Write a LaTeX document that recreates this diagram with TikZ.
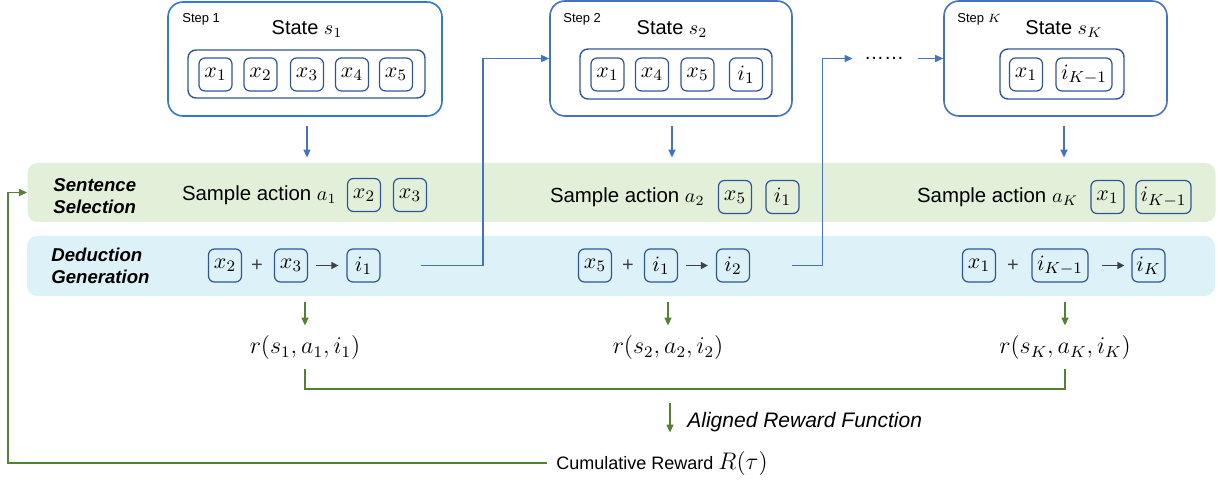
\documentclass[tikz,border=0pt]{standalone}
\usepackage[no-math]{fontspec}
\setmainfont{Liberation Sans}
\usetikzlibrary{arrows.meta,positioning}
\definecolor{selgreen}{HTML}{E2F0D9}
\definecolor{dedblue}{HTML}{DDF2F8}
\definecolor{flowblue}{HTML}{4472C4}
\definecolor{firstblue}{HTML}{2E7BCF}
\definecolor{tokblue}{HTML}{2F5597}
\definecolor{rewgreen}{HTML}{548235}
\definecolor{opgray}{HTML}{404040}
\begin{document}
\begin{tikzpicture}[
  x = 0.5pt, y = -0.5pt,
  statebox/.style = {draw = #1, line width = 0.8pt, rounded corners = 7.5pt},
  pool/.style = {draw = tokblue, line width = 0.7pt, rounded corners = 4pt},
  tok/.style = {draw = tokblue, line width = 0.6pt, rounded corners = 3pt,
    minimum width = 16.5pt, minimum height = 16.5pt, inner sep = 1pt,
    font = \fontsize{11}{12}\selectfont},
  band/.style = {fill = #1, rounded corners = 5pt, minimum width = 594pt,
    minimum height = 29.5pt},
  steplbl/.style = {anchor = west, inner sep = 0pt, font = \fontsize{6.5}{8}\selectfont},
  statelbl/.style = {inner sep = 0pt, font = \fontsize{10}{12}\selectfont},
  bandlbl/.style = {anchor = west, align = left, inner sep = 0pt,
    font = \bfseries\itshape\fontsize{9.3}{11}\selectfont},
  acttext/.style = {inner sep = 0pt, font = \fontsize{10.2}{12}\selectfont},
  opsign/.style = {inner sep = 0pt, text = opgray, font = \fontsize{10}{12}\selectfont},
  rew/.style = {inner sep = 0pt, font = \fontsize{11.5}{13}\selectfont},
  blueflow/.style = {draw = flowblue, line width = 0.75pt,
    -{Triangle[length = 4pt, width = 3.5pt]}},
  opflow/.style = {draw = opgray, line width = 0.75pt,
    -{Triangle[length = 3.5pt, width = 3.5pt]}, shorten <= 4pt, shorten >= 4pt},
  rewline/.style = {draw = rewgreen, line width = 0.75pt},
  rewflow/.style = {rewline, -{Triangle[length = 4pt, width = 3.5pt]}}
  ]
  \useasboundingbox (0,0) rectangle (1223,481);
  \node[band = selgreen] (sel) at (621.5,192.5) {};
  \node[band = dedblue, minimum height = 30pt] (ded) at (621,266) {};
  \node[bandlbl] (sellbl) at (53,196) {Sentence\\Selection};
  \node[bandlbl] (dedlbl) at (51,266) {Deduction\\Generation};

  \node[statebox = firstblue, minimum width = 137pt, minimum height = 57pt] (st1) at (305,59) {};
  \node[steplbl] (step1) at (182,19.5) {Step 1};
  \node[statelbl] (lbl1) at (307,29) {State $s_1$};
  \node[pool, minimum width = 118.5pt, minimum height = 24pt] (pool1) at (306.5,74) {};
  \foreach \i/\x in {1/215.5,2/260.5,3/307,4/352,5/396}
    \node[tok] (s1x\i) at (\x,74.5) {$x_\i$};

  \node[statebox = flowblue, minimum width = 121pt, minimum height = 57.5pt] (st2) at (671,58.5) {};
  \node[steplbl] (step2) at (563,19.5) {Step 2};
  \node[statelbl] (lbl2) at (672,29) {State $s_2$};
  \node[pool, minimum width = 96pt, minimum height = 25pt] (pool2) at (676,74) {};
  \node[tok] (s2x1) at (607.5,74.5) {$x_1$};
  \node[tok] (s2x4) at (652,74.5) {$x_4$};
  \node[tok] (s2x5) at (697.5,74.5) {$x_5$};
  \node[tok] (s2i1) at (746,74.5) {$i_1$};

  \node[statebox = flowblue, minimum width = 111.5pt, minimum height = 57.5pt] (stK) at (1055.5,58.5) {};
  \node[steplbl] (stepK) at (957,19.5) {Step $K$};
  \node[statelbl] (lblK) at (1064,29) {State $s_K$};
  \node[pool, minimum width = 62pt, minimum height = 25pt] (poolK) at (1062,74) {};
  \node[tok] (sKx1) at (1026,74.5) {$x_1$};
  \node[tok, minimum width = 28pt] (sKi) at (1084,74.5) {$i_{K-1}$};

  \node[inner sep = 0pt, font = \fontsize{10}{12}\selectfont] (dots) at (884,58.5) {……};

  \node[tok] (a1x2) at (364,195) {$x_2$};
  \node[tok] (a1x3) at (410,195) {$x_3$};
  \node[acttext, left = 5pt of a1x2] (act1) {Sample action $a_1$};
  \node[tok] (a2x5) at (735,197) {$x_5$};
  \node[tok] (a2i1) at (782.5,197) {$i_1$};
  \node[acttext, left = 6.5pt of a2x5] (act2) {Sample action $a_2$};
  \node[tok] (aKx1) at (1107.5,197) {$x_1$};
  \node[tok, minimum width = 27.5pt] (aKi) at (1163.5,197) {$i_{K-1}$};
  \node[acttext, left = 6pt of aKx1] (actK) {Sample action $a_K$};

  \node[tok] (d1x2) at (225,265.5) {$x_2$};
  \node[opsign] (d1plus) at (257,265.5) {+};
  \node[tok] (d1x3) at (291,265.5) {$x_3$};
  \node[tok] (d1i1) at (363.5,265.5) {$i_1$};
  \node[tok] (d2x5) at (595,265.5) {$x_5$};
  \node[opsign] (d2plus) at (628,265.5) {+};
  \node[tok] (d2i1) at (661,265.5) {$i_1$};
  \node[tok] (d2i2) at (733,265.5) {$i_2$};
  \node[tok] (dKx1) at (979,265.5) {$x_1$};
  \node[opsign] (dKplus) at (1013,265.5) {+};
  \node[tok, minimum width = 28pt] (dKi) at (1060,265.5) {$i_{K-1}$};
  \node[tok] (dKiK) at (1148.5,265.5) {$i_K$};
  \draw[opflow] (d1x3) -- (d1i1);
  \draw[opflow] (d2i1) -- (d2i2);
  \draw[opflow, shorten <= 6.5pt, shorten >= 3.5pt] (dKi) -- (dKiK);

  \draw[blueflow, shorten <= 4.5pt, shorten >= 2.5pt] (lbl1 |- st1.south) -- (lbl1 |- sel.north);
  \draw[blueflow, shorten <= 4.5pt, shorten >= 2.5pt] (lbl2 |- st2.south) -- (lbl2 |- sel.north);
  \draw[blueflow, shorten <= 4.5pt, shorten >= 2.5pt] (lblK |- stK.south) -- (lblK |- sel.north);
  \draw[blueflow, shorten <= 20pt] (d1i1.east) -| ([xshift = -33pt]st2.west) -- (st2.west);
  \draw[blueflow, shorten <= 21pt, shorten >= 5.5pt] (d2i2.east) -| ([xshift = -20.5pt]dots.west) -- (dots.west);
  \draw[blueflow, shorten <= 7pt] (dots.east) -- (stK.west);

  \node[rew] (r1) at (305,348) {$r(s_1,a_1,i_1)$};
  \node[rew] (r2) at (668,348) {$r(s_2,a_2,i_2)$};
  \node[rew] (rK) at (1065,348) {$r(s_K,a_K,i_K)$};
  \draw[rewflow, shorten <= 3pt, shorten >= 5pt] (r1 |- ded.south) -- (r1.north);
  \draw[rewflow, shorten <= 3pt, shorten >= 5pt] (r2 |- ded.south) -- (r2.north);
  \draw[rewflow, shorten <= 3pt, shorten >= 5pt] (rK |- ded.south) -- (rK.north);

  \coordinate (brk) at (670,389);
  \draw[rewline] ([yshift = -4.5pt]r1.south) |- (brk) -| ([yshift = -4.5pt]rK.south);
  \node[anchor = west, inner sep = 0pt, font = \itshape\fontsize{10.5}{12}\selectfont] (align) at (687,422) {Aligned Reward Function};
  \node[anchor = west, inner sep = 0pt, font = \fontsize{9}{11}\selectfont] (cum) at (556,463) {Cumulative Reward {\fontsize{11.5}{13}\selectfont $R(\tau)$}};
  \draw[rewflow, shorten <= 7pt, shorten >= 9pt] (brk) -- (brk |- cum.north);
  \coordinate (fb) at (8,463);
  \draw[rewflow, shorten <= 4.5pt] (cum.west) -- (cum.west -| fb) |- (sel.west);
\end{tikzpicture}
\end{document}
